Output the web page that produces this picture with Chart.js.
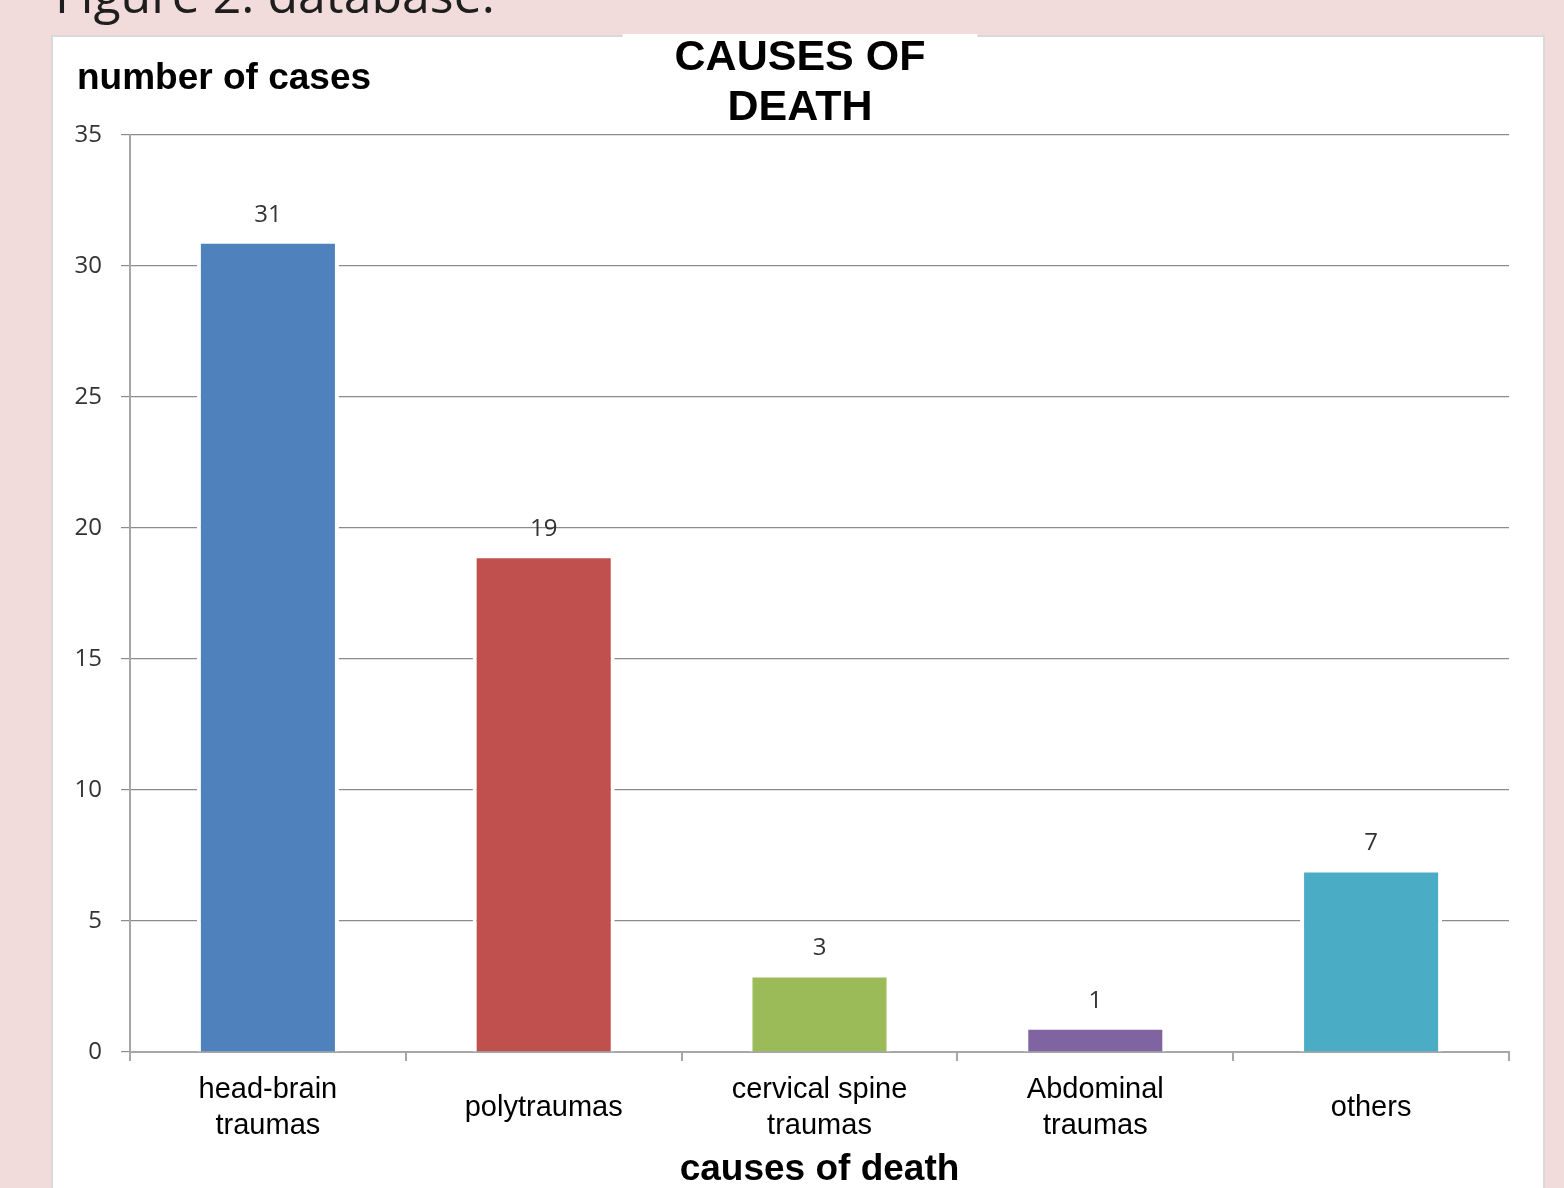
<!DOCTYPE html>
<html>
<head>
<meta charset="utf-8">
<title>Causes of death</title>
<script src="https://cdn.jsdelivr.net/npm/chart.js@4.4.1/dist/chart.umd.min.js"></script>
<style>
  html, body { margin: 0; padding: 0; }
  body {
    width: 1564px; height: 1188px; overflow: hidden; position: relative;
    background: #f2dcdb;
  }
  #caption {
    position: absolute; left: 55px; top: -31px;
    font-family: "Open Sans", sans-serif; font-size: 50px; line-height: 50px;
    color: #1e1e1e; white-space: nowrap;
  }
  #panel {
    position: absolute; left: 51px; top: 35px; width: 1490px; height: 1200px;
    background: #ffffff; border: 2px solid #d9d9d9;
  }
  #chart { position: absolute; left: 0; top: 0; }
</style>
</head>
<body>
<div id="caption">Figure 2: database:</div>
<div id="panel"></div>
<canvas id="chart" width="1564" height="1188"></canvas>
<script>
// Categories and counts
const categories = [
  ["head-brain", "traumas"],
  "polytraumas",
  ["cervical spine", "traumas"],
  ["Abdominal", "traumas"],
  "others"
];
const cases = [31, 19, 3, 1, 7];
const barColors = ["#4f81bd", "#c0504d", "#9bbb59", "#8064a2", "#4bacc6"];
const yTicks = [0, 5, 10, 15, 20, 25, 30, 35];

const chartTitle = ["CAUSES OF", "DEATH"];
const yAxisTitle = "number of cases";
const xAxisTitle = "causes of death";

// Narrow the title block on the left so the heading sits a little right of centre
const titleShiftPlugin = {
  id: "titleShift",
  afterLayout(chart) {
    const tb = chart.titleBlock;
    if (!tb) return;
    tb.left += 39;
    tb.width = tb.right - tb.left;
  }
};

// White box behind the chart title, breaking the panel border
const titleBoxPlugin = {
  id: "titleBox",
  beforeDraw(chart) {
    const tb = chart.titleBlock;
    if (!tb) return;
    const ctx = chart.ctx;
    const f = Chart.helpers.toFont(chart.options.plugins.title.font);
    ctx.save();
    ctx.font = f.string;
    const w = Math.max(...chartTitle.map(t => ctx.measureText(t).width));
    const cx = (tb.left + tb.right) / 2;
    ctx.fillStyle = "#ffffff";
    ctx.fillRect(cx - w / 2 - 52, tb.top + 1, w + 104, tb.height - 10);
    ctx.restore();
  }
};

// Horizontal value-axis caption above the top-left corner of the plot
const yCaptionPlugin = {
  id: "yCaption",
  afterDraw(chart, args, opts) {
    const ctx = chart.ctx;
    const { left, top } = chart.chartArea;
    ctx.save();
    ctx.font = "bold 37px 'Liberation Sans', Arial, sans-serif";
    ctx.fillStyle = "#000000";
    ctx.textAlign = "left";
    ctx.textBaseline = "middle";
    ctx.fillText(opts.text, left - 53, top - 56);
    ctx.restore();
  }
};

// Value labels above each bar
const valueLabelPlugin = {
  id: "valueLabels",
  afterDatasetsDraw(chart) {
    const ctx = chart.ctx;
    const meta = chart.getDatasetMeta(0);
    ctx.save();
    ctx.font = "24px 'Open Sans', sans-serif";
    ctx.fillStyle = "#333333";
    ctx.textAlign = "center";
    ctx.textBaseline = "middle";
    meta.data.forEach((bar, i) => {
      ctx.fillText(String(chart.data.datasets[0].data[i]), bar.x, bar.y - 25);
    });
    ctx.restore();
  }
};

new Chart(document.getElementById("chart"), {
  type: "bar",
  data: {
    labels: categories,
    datasets: [{
      data: cases,
      backgroundColor: barColors,
      borderColor: "#ffffff",
      borderWidth: 4,
      borderSkipped: "start",
      barPercentage: 0.515,
      categoryPercentage: 1
    }]
  },
  options: {
    responsive: false,
    animation: false,
    devicePixelRatio: 1,
    layout: { padding: { top: 33, left: 52, right: 55, bottom: 0 } },
    plugins: {
      legend: { display: false },
      tooltip: { enabled: false },
      title: {
        display: true,
        text: chartTitle,
        color: "#000000",
        font: { family: "'Liberation Sans', Arial, sans-serif", size: 43, weight: "bold", lineHeight: 50 / 43 },
        padding: { top: 0, bottom: 2 }
      },
      yCaption: { text: yAxisTitle }
    },
    scales: {
      x: {
        afterFit(scale) { scale.height = 136; },
        grid: {
          display: true, drawOnChartArea: false, drawTicks: true,
          tickLength: 9, offset: true, color: "#a6a6a6", lineWidth: 2
        },
        border: { display: true, color: "#a6a6a6", width: 2 },
        ticks: {
          autoSkip: false, maxRotation: 0, minRotation: 0,
          padding: 29, crossAlign: "center", color: "#000000",
          font: { family: "'Liberation Sans', Arial, sans-serif", size: 29, lineHeight: 36 / 29 }
        },
        title: {
          display: true, text: xAxisTitle, color: "#000000",
          font: { family: "'Liberation Sans', Arial, sans-serif", size: 37, weight: "bold", lineHeight: 1 },
          padding: { top: 0, bottom: 0 }
        }
      },
      y: {
        min: 0, max: 35,
        afterFit(scale) { scale.width = 78; },
        afterBuildTicks(scale) { scale.ticks = yTicks.map(v => ({ value: v })); },
        grid: { color: "#8c8c8c", lineWidth: 1.2, tickLength: 9, drawTicks: true },
        border: { display: true, color: "#a6a6a6", width: 2 },
        ticks: {
          padding: 19, color: "#333333",
          font: { family: "'Open Sans', sans-serif", size: 24 }
        }
      }
    }
  },
  plugins: [titleShiftPlugin, titleBoxPlugin, yCaptionPlugin, valueLabelPlugin]
});
</script>
</body>
</html>
